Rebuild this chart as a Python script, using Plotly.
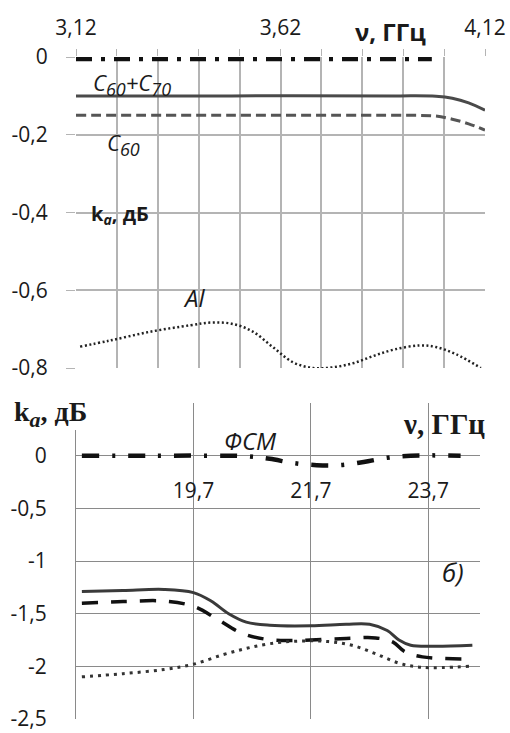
import plotly.graph_objects as go

W, H = 510, 733

# ---- panel a): 3.12-4.12 GHz ----
fa_fsm = [3.12, 3.50, 3.99]
ka_fsm_a = [-0.005, -0.005, -0.005]

fa_c6070 = [3.12, 3.50, 3.90, 4.00, 4.04, 4.08, 4.12]
ka_c6070_a = [-0.100, -0.100, -0.100, -0.101, -0.106, -0.118, -0.137]

fa_c60 = [3.12, 3.50, 3.90, 4.00, 4.04, 4.08, 4.12]
ka_c60_a = [-0.150, -0.150, -0.150, -0.152, -0.160, -0.172, -0.188]

fa_al = [3.13, 3.20, 3.30, 3.40, 3.45, 3.50, 3.55, 3.60, 3.65, 3.70, 3.75,
         3.80, 3.85, 3.90, 3.96, 4.00, 4.05, 4.11]
ka_al_a = [-0.745, -0.730, -0.707, -0.690, -0.683, -0.686, -0.705, -0.745,
           -0.785, -0.800, -0.798, -0.787, -0.768, -0.752, -0.742, -0.746,
           -0.765, -0.800]

xa_vals = [3.12, 3.62, 4.12]
xa_text = ["3,12", "3,62", "4,12"]
ya_vals = [0, -0.2, -0.4, -0.6, -0.8]
ya_text = ["0", "-0,2", "-0,4", "-0,6", "-0,8"]

# ---- panel б): 17.7-24.6 GHz ----
fb_fsm = [17.8, 19.0, 20.0, 20.6, 21.0, 21.4, 21.8, 22.2, 22.6, 23.0, 23.4, 24.25]
ka_fsm_b = [0, 0, 0, -0.005, -0.03, -0.07, -0.09, -0.09, -0.06, -0.02, 0, 0]

fb_c6070 = [17.8, 18.5, 19.2, 19.7, 20.0, 20.3, 20.6, 21.0, 21.7, 22.3, 22.7,
            23.0, 23.2, 23.4, 23.8, 24.45]
ka_c6070_b = [-1.29, -1.28, -1.27, -1.30, -1.38, -1.50, -1.58, -1.61, -1.615,
              -1.60, -1.60, -1.66, -1.75, -1.80, -1.81, -1.80]

fb_c60 = [17.8, 18.5, 19.2, 19.7, 20.1, 20.5, 20.9, 21.3, 21.7, 22.3, 22.8,
          23.1, 23.3, 23.6, 24.3]
ka_c60_b = [-1.40, -1.385, -1.38, -1.43, -1.55, -1.68, -1.74, -1.755, -1.75,
            -1.735, -1.73, -1.77, -1.86, -1.91, -1.93]

fb_al = [17.8, 18.5, 19.2, 19.7, 20.2, 20.6, 21.0, 21.5, 22.0, 22.4, 22.8,
         23.2, 23.6, 24.4]
ka_al_b = [-2.10, -2.07, -2.03, -1.98, -1.89, -1.83, -1.785, -1.76, -1.765,
           -1.80, -1.88, -1.97, -2.01, -2.00]

xb_vals = [19.7, 21.7, 23.7]
xb_text = ["19,7", "21,7", "23,7"]
yb_vals = [0, -0.5, -1, -1.5, -2, -2.5]
yb_text = ["0", "-0,5", "-1", "-1,5", "-2", "-2,5"]

TICK_FONT = dict(family="Open Sans", size=21, color="#1a1a1a")
GRID_A = "#b4b4b4"
GRID_B = "#8a8a8a"


def px(x):
    return x / W


def py(y):
    return 1 - y / H


fig = go.Figure()

# panel a) curves
fig.add_trace(go.Scatter(x=fa_fsm, y=ka_fsm_a, mode="lines", xaxis="x", yaxis="y",
                         line=dict(color="#111", width=4.5, dash="16px,9px,4px,9px")))
fig.add_trace(go.Scatter(x=fa_c6070, y=ka_c6070_a, mode="lines", xaxis="x", yaxis="y",
                         line=dict(color="#4a4a4a", width=3, shape="spline")))
fig.add_trace(go.Scatter(x=fa_c60, y=ka_c60_a, mode="lines", xaxis="x", yaxis="y",
                         line=dict(color="#555", width=3, dash="10px,5px", shape="spline")))
fig.add_trace(go.Scatter(x=fa_al, y=ka_al_a, mode="lines", xaxis="x", yaxis="y",
                         line=dict(color="#222", width=2.5, dash="2px,2.5px", shape="spline")))

# panel б) curves
fig.add_trace(go.Scatter(x=fb_fsm, y=ka_fsm_b, mode="lines", xaxis="x2", yaxis="y2",
                         line=dict(color="#111", width=4.5, dash="17px,13px,3px,13px",
                                   shape="spline")))
fig.add_trace(go.Scatter(x=fb_c6070, y=ka_c6070_b, mode="lines", xaxis="x2", yaxis="y2",
                         line=dict(color="#3a3a3a", width=3, shape="spline")))
fig.add_trace(go.Scatter(x=fb_c60, y=ka_c60_b, mode="lines", xaxis="x2", yaxis="y2",
                         line=dict(color="#111", width=3.5, dash="16px,13px", shape="spline")))
fig.add_trace(go.Scatter(x=fb_al, y=ka_al_b, mode="lines", xaxis="x2", yaxis="y2",
                         line=dict(color="#333", width=3, dash="3px,5px", shape="spline")))

fig.update_layout(
    width=W, height=H,
    margin=dict(l=0, r=0, t=0, b=0, autoexpand=False),
    paper_bgcolor="white", plot_bgcolor="white",
    showlegend=False,
    xaxis=dict(domain=[px(76), px(485)], range=[3.12, 4.12], anchor="y", side="top",
               tickvals=xa_vals, ticktext=xa_text, showgrid=True, gridcolor=GRID_A,
               gridwidth=1.5, ticks="outside", ticklen=7, tickcolor=GRID_A,
               ticklabelstandoff=6, zeroline=False, showline=False, tickfont=TICK_FONT,
               automargin=False,
               minor=dict(tick0=3.12, dtick=0.1, showgrid=True, gridcolor=GRID_A,
                          gridwidth=1.5, ticks="outside", ticklen=7, tickcolor=GRID_A)),
    yaxis=dict(domain=[py(368), py(57)], range=[-0.8, 0], anchor="x",
               tickvals=ya_vals, ticktext=ya_text, showgrid=True, gridcolor=GRID_A,
               gridwidth=1.5, ticks="outside", ticklen=9, tickcolor=GRID_A,
               ticklabelstandoff=14, zeroline=False, showline=False, tickfont=TICK_FONT,
               automargin=False),
    xaxis2=dict(domain=[px(76), px(480)], range=[17.7, 24.58], anchor="free",
                position=py(456), tickvals=xb_vals, ticktext=xb_text, showgrid=True,
                gridcolor=GRID_B, gridwidth=1.2, ticks="", ticklabelstandoff=20,
                zeroline=False, showline=False, tickfont=TICK_FONT, automargin=False),
    yaxis2=dict(domain=[py(719), py(403)], range=[-2.5, 0.5], anchor="x2",
                tickvals=yb_vals, ticktext=yb_text, showgrid=True, gridcolor=GRID_B,
                gridwidth=1.2, ticks="", ticklabelstandoff=24, zeroline=False,
                showline=True, linecolor=GRID_B, linewidth=1.2, tickfont=TICK_FONT,
                automargin=False,
                minor=dict(tick0=0, dtick=0.5, showgrid=True, gridcolor=GRID_B,
                           gridwidth=1.2, ticks="")),
)

SANS = "Open Sans"
SERIF = "Liberation Serif"


def label(text, x, y, font, size, xanchor="left", color="#1a1a1a"):
    fig.add_annotation(text=text, x=px(x), y=py(y), xref="paper", yref="paper",
                       xanchor=xanchor, yanchor="middle", showarrow=False,
                       font=dict(family=font, size=size, color=color), borderpad=0)


def sub(t, size):
    return f"<sub><span style='font-size:{size}px'>{t}</span></sub>"


# white patch under the panel б) axis title, covering the grid corner
fig.add_shape(type="rect", xref="paper", yref="paper", x0=px(60), x1=px(106),
              y0=py(430), y1=py(398), fillcolor="white", line=dict(width=0), layer="above")

label("<b>ν, ГГц</b>", 354, 31, SANS, 24)
label(f"<i>C{sub('60', 18)}+C{sub('70', 18)}</i>", 92, 84, SANS, 22)
label(f"<i>C{sub('60', 18)}</i>", 106, 144, SANS, 22)
label("<b>k<sub><i>a</i></sub>, дБ</b>", 90, 214, SANS, 20)
label("<i>Al</i>", 182, 297, SANS, 24)

label(f"<b>k{sub('<i>a</i>', 22)}, дБ</b>", 13, 414, SERIF, 28)
label("<b>ν, ГГц</b>", 402, 424, SERIF, 29)
label("<i>ФСМ</i>", 223, 440, SANS, 24)
label("<i>б)</i>", 441, 572, SANS, 26)

fig.write_html("out.html")
